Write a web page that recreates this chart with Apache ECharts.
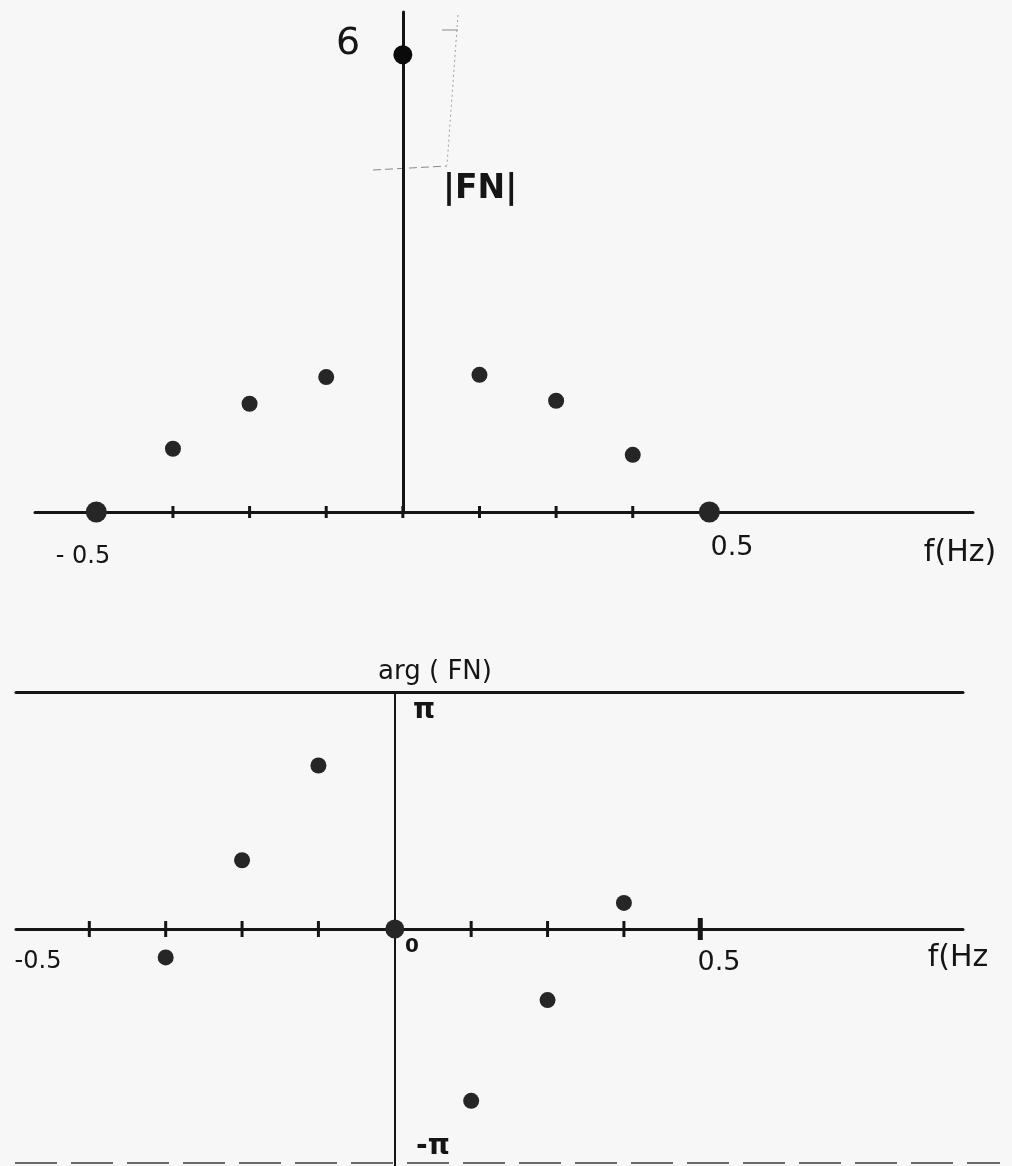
<!DOCTYPE html>
<html>
<head>
<meta charset="utf-8">
<script src="https://cdn.jsdelivr.net/npm/echarts@6/dist/echarts.min.js"></script>
<style>
  html, body { margin: 0; padding: 0; background: #f7f7f7; }
  #chart { width: 1012px; height: 1166px; }
</style>
</head>
<body>
<div id="chart"></div>
<script>
// Frequency bins (Hz) of the 8-point spectrum
const freqBins = [-0.5, -0.375, -0.25, -0.125, 0, 0.125, 0.25, 0.375, 0.5];
// |FN| at each bin
const magnitude = [0, 0.83, 1.42, 1.77, 6, 1.80, 1.46, 0.75, 0];
// arg(FN), in units of π (left out at ±0.5 where |FN| = 0)
const phaseBins = [-0.375, -0.25, -0.125, 0, 0.125, 0.25, 0.375];
const phaseInPi = [-0.12, 0.29, 0.69, 0, -0.725, -0.30, 0.11];
// tick marks along the frequency axes
const topTicks = [-0.375, -0.25, -0.125, 0, 0.125, 0.25, 0.375];
const bottomTicks = [-0.5, -0.375, -0.25, -0.125, 0.125, 0.25, 0.375];
const bottomMajorTicks = [0.5];

const INK = '#151515';
const DOT = '#262626';
const FONT = '"DejaVu Sans", sans-serif';

const chart = echarts.init(document.getElementById('chart'), null, { renderer: 'canvas' });

const plainAxis = {
  type: 'value',
  axisTick: { show: false },
  axisLabel: { show: false },
  splitLine: { show: false }
};

function txt(text, x, y, size, opts) {
  return {
    type: 'text',
    x: x, y: y,
    style: {
      text: text,
      fill: INK,
      font: (opts && opts.weight ? opts.weight + ' ' : '') + size + 'px ' + FONT,
      align: (opts && opts.align) || 'center',
      verticalAlign: 'middle'
    },
    silent: true
  };
}

function line(x1, y1, x2, y2, color, width, dash) {
  return {
    type: 'line',
    shape: { x1: x1, y1: y1, x2: x2, y2: y2 },
    style: { stroke: color, lineWidth: width, lineDash: dash || null },
    silent: true
  };
}

const option = {
  backgroundColor: '#f7f7f7',
  animation: false,
  grid: [
    { left: 35, top: 12, width: 938, height: 500 },
    { left: 16, top: 692, width: 947, height: 480 }
  ],
  xAxis: [
    Object.assign({}, plainAxis, {
      gridIndex: 0, min: -0.6, max: 0.93,
      axisLine: { show: true, onZero: true, lineStyle: { color: INK, width: 3 } }
    }),
    Object.assign({}, plainAxis, {
      gridIndex: 1, min: -0.62, max: 0.93,
      axisLine: { show: true, onZero: true, lineStyle: { color: INK, width: 3 } }
    }),
    // the +π rule across the top of the phase plot
    Object.assign({}, plainAxis, {
      gridIndex: 1, min: -0.62, max: 0.93, position: 'top',
      axisLine: { show: true, onZero: false, lineStyle: { color: INK, width: 3 } }
    })
  ],
  yAxis: [
    Object.assign({}, plainAxis, {
      gridIndex: 0, min: 0, max: 6.56,
      axisLine: { show: true, onZero: true, lineStyle: { color: INK, width: 3 } }
    }),
    Object.assign({}, plainAxis, {
      gridIndex: 1, min: -1, max: 1,
      axisLine: { show: true, onZero: true, onZeroAxisIndex: 1, lineStyle: { color: INK, width: 2 } }
    })
  ],
  series: [
    {
      name: 'tick-top', type: 'scatter', xAxisIndex: 0, yAxisIndex: 0,
      symbol: 'rect', symbolSize: [3, 12], silent: true,
      itemStyle: { color: INK, opacity: 1 },
      data: topTicks.map(f => [f, 0])
    },
    {
      name: '|FN|', type: 'scatter', xAxisIndex: 0, yAxisIndex: 0,
      symbolSize: v => (v[1] >= 5 ? 19 : (v[1] === 0 ? 21 : 16)),
      itemStyle: {
        opacity: 1,
        color: p => (p.value[1] >= 5 ? '#0a0a0a' : DOT)
      },
      data: freqBins.map((f, i) => [f, magnitude[i]])
    },
    {
      name: 'tick-bottom', type: 'scatter', xAxisIndex: 1, yAxisIndex: 1,
      symbol: 'rect', symbolSize: [3, 16], silent: true,
      itemStyle: { color: INK, opacity: 1 },
      data: bottomTicks.map(f => [f, 0])
    },
    {
      name: 'tick-bottom-major', type: 'scatter', xAxisIndex: 1, yAxisIndex: 1,
      symbol: 'rect', symbolSize: [5, 22], silent: true,
      itemStyle: { color: INK, opacity: 1 },
      data: bottomMajorTicks.map(f => [f, 0])
    },
    {
      name: 'arg(FN)', type: 'scatter', xAxisIndex: 1, yAxisIndex: 1,
      symbolSize: v => (v[1] === 0 ? 19 : 16),
      itemStyle: { color: DOT, opacity: 1 },
      data: phaseBins.map((f, i) => [f, phaseInPi[i]])
    }
  ],
  graphic: [
    // magnitude plot annotations
    txt('6', 348, 44, 38),
    txt('|FN|', 443, 189, 33, { weight: 'bold', align: 'left' }),
    txt('- 0.5', 83, 557, 24),
    txt('0.5', 732, 548, 27),
    txt('f(Hz)', 960, 553, 30),
    // faint pencil guide near the peak
    line(442, 30, 458, 30, '#8a8a8a', 1),
    line(458, 15, 447, 165, '#a0a0a0', 1, [2, 3]),
    line(373, 170, 447, 166, '#8a8a8a', 1, [8, 4]),
    // phase plot annotations
    txt('arg ( FN)', 435, 672, 26),
    txt('π', 424, 711, 28, { weight: 'bold' }),
    txt('-π', 433, 1147, 28, { weight: 'bold' }),
    txt('-0.5', 38, 962, 24),
    txt('0', 412, 947, 20, { weight: 'bold' }),
    txt('0.5', 719, 963, 27),
    txt('f(Hz', 958, 958, 30),
    // broken −π rule along the bottom edge
    line(15, 1163, 1000, 1163, '#6a6a6a', 2, [42, 14])
  ]
};

chart.setOption(option);
</script>
</body>
</html>
